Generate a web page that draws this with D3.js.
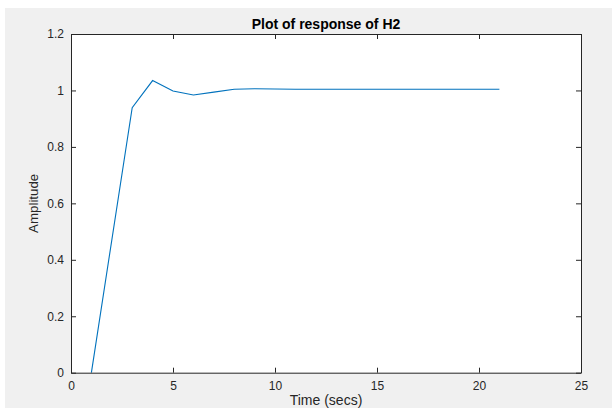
<!DOCTYPE html>
<html><head><meta charset="utf-8">
<script src="https://cdn.jsdelivr.net/npm/d3@7"></script>
<style>html,body{margin:0;padding:0;background:#fff;}svg{display:block;}</style>
</head><body>
<script>
const timeValues = [1, 2, 3, 4, 5, 6, 7, 8, 9, 10, 11, 12, 13, 14, 15, 16, 17, 18, 19, 20, 21];
const amplitudeValues = [0, 0.47, 0.939, 1.035, 0.998, 0.984, 0.994, 1.004, 1.006, 1.005, 1.004, 1.004, 1.004, 1.004, 1.004, 1.004, 1.004, 1.004, 1.004, 1.004, 1.004];
const xTicks = [0, 5, 10, 15, 20, 25];
const yTicks = [0, 0.2, 0.4, 0.6, 0.8, 1, 1.2];
const titleText = "Plot of response of H2";
const xLabel = "Time (secs)";
const yLabel = "Amplitude";

const W = 612, H = 408;
const svg = d3.select("body").append("svg").attr("width", W).attr("height", H);
svg.append("rect").attr("x", 5).attr("y", 8).attr("width", W - 5).attr("height", H - 8).attr("fill", "#f0f0f0");

const L = 71, R = 581, T = 34, B = 372.7;
const x = d3.scaleLinear().domain([0, 25]).range([L, R]);
const y = d3.scaleLinear().domain([0, 1.2]).range([B, T]);

svg.append("rect").attr("x", L).attr("y", T).attr("width", R - L).attr("height", B - T).attr("fill", "#fff");

const axColor = "#262626";
const font = "Arial, 'Liberation Sans', Helvetica, sans-serif";

// line
const data = timeValues.map((t, i) => [t, amplitudeValues[i]]);
svg.append("path").datum(data)
  .attr("d", d3.line().x(d => x(d[0])).y(d => y(d[1])))
  .attr("fill", "none").attr("stroke", "#0072BD").attr("stroke-width", 1.1);

// axes
const fmt = d => String(d);
const gx = svg.append("g").attr("transform", `translate(0,${B})`)
  .call(d3.axisBottom(x).tickValues(xTicks).tickFormat(fmt).tickSizeInner(-5).tickSizeOuter(0).tickPadding(9));
const gxt = svg.append("g").attr("transform", `translate(0,${T})`)
  .call(d3.axisTop(x).tickValues(xTicks).tickFormat("").tickSizeInner(-5).tickSizeOuter(0));
const gy = svg.append("g").attr("transform", `translate(${L},0)`)
  .call(d3.axisLeft(y).tickValues(yTicks).tickFormat(fmt).tickSizeInner(-5).tickSizeOuter(0).tickPadding(7));
const gyr = svg.append("g").attr("transform", `translate(${R},0)`)
  .call(d3.axisRight(y).tickValues(yTicks).tickFormat("").tickSizeInner(-5).tickSizeOuter(0));
[gx, gxt, gy, gyr].forEach(g => {
  g.selectAll("path,line").attr("stroke", axColor).attr("stroke-width", 1);
  g.selectAll("text").attr("fill", axColor).attr("font-family", font).attr("font-size", 12);
});

// title & labels
svg.append("text").attr("x", (L + R) / 2).attr("y", 28.5).attr("text-anchor", "middle")
  .attr("font-family", font).attr("font-weight", "bold").attr("font-size", 14).attr("fill", "#000").text(titleText);
svg.append("text").attr("x", (L + R) / 2).attr("y", 404.5).attr("text-anchor", "middle")
  .attr("font-family", font).attr("font-size", 14).attr("fill", axColor).text(xLabel);
svg.append("text").attr("transform", `translate(38,${(T + B) / 2}) rotate(-90)`).attr("text-anchor", "middle")
  .attr("font-family", font).attr("font-size", 13.3).attr("fill", axColor).text(yLabel);
</script>
</body></html>
